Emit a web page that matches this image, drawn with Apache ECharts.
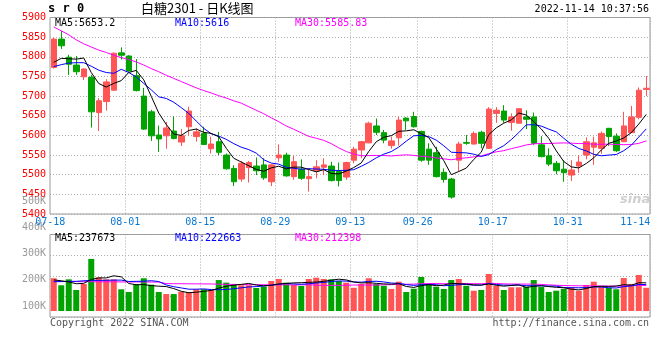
<!DOCTYPE html>
<html><head><meta charset="utf-8">
<script src="https://cdn.jsdelivr.net/npm/echarts@6/dist/echarts.min.js"></script>
<style>html,body{margin:0;padding:0;background:#fff}#c{width:660px;height:360px}</style>
</head><body><div id="c"></div>
<script>
const dates = ['07-18','07-19','07-20','07-21','07-22','07-25','07-26','07-27','07-28','07-29',
'08-01','08-02','08-03','08-04','08-05','08-08','08-09','08-10','08-11','08-12',
'08-15','08-16','08-17','08-18','08-19','08-22','08-23','08-24','08-25','08-26',
'08-29','08-30','08-31','09-01','09-02','09-05','09-06','09-07','09-08','09-09',
'09-13','09-14','09-15','09-16','09-19','09-20','09-21','09-22','09-23','09-26',
'09-27','09-28','09-29','09-30','10-10','10-11','10-12','10-13','10-14','10-17',
'10-18','10-19','10-20','10-21','10-24','10-25','10-26','10-27','10-28','10-31',
'11-01','11-02','11-03','11-04','11-07','11-08','11-09','11-10','11-11','11-14'];
const dateLabelIdx = [0,10,20,30,40,49,59,69,79];

const opens = [5773,5845,5799,5779,5749,5748,5658,5686,5715,5810,
5802,5752,5700,5660,5601,5599,5611,5583,5622,5597,
5605,5566,5584,5550,5516,5489,5518,5522,5525,5482,
5543,5550,5495,5514,5490,5510,5519,5522,5508,5494,
5537,5563,5581,5624,5607,5574,5594,5644,5648,5610,
5565,5556,5506,5489,5537,5582,5578,5608,5567,5656,
5662,5633,5631,5647,5647,5576,5548,5529,5514,5499,
5522,5550,5570,5567,5618,5598,5584,5607,5646,5717];
const closes = [5845,5828,5781,5762,5769,5660,5688,5736,5809,5804,
5764,5714,5616,5599,5591,5619,5592,5599,5662,5609,
5577,5578,5557,5515,5482,5529,5531,5510,5492,5525,
5550,5497,5533,5491,5495,5520,5525,5485,5485,5531,
5565,5584,5631,5608,5588,5586,5639,5637,5622,5537,
5537,5495,5488,5443,5578,5580,5605,5580,5667,5664,
5639,5647,5668,5641,5580,5546,5527,5510,5505,5512,
5532,5584,5581,5605,5597,5561,5624,5647,5715,5720];
const lows = [5770,5820,5754,5754,5741,5620,5611,5663,5714,5793,
5762,5712,5614,5586,5558,5566,5590,5573,5599,5584,
5576,5554,5550,5513,5471,5482,5480,5499,5487,5471,
5533,5495,5487,5487,5457,5491,5499,5483,5470,5487,
5529,5542,5580,5601,5580,5566,5574,5614,5620,5533,
5525,5493,5480,5439,5508,5576,5577,5567,5566,5632,
5632,5612,5630,5616,5576,5544,5522,5501,5482,5484,
5505,5539,5525,5553,5573,5558,5583,5606,5641,5700];
const highs = [5848,5866,5805,5802,5771,5754,5695,5743,5811,5824,
5804,5794,5721,5665,5625,5634,5648,5616,5673,5618,
5622,5597,5609,5554,5524,5535,5535,5544,5542,5526,
5577,5556,5548,5539,5516,5537,5542,5533,5531,5533,
5571,5586,5635,5643,5614,5597,5648,5646,5660,5612,
5580,5571,5516,5492,5584,5601,5610,5612,5672,5672,
5677,5656,5669,5664,5658,5598,5567,5535,5537,5537,
5550,5595,5597,5610,5619,5605,5660,5675,5722,5751];

const ma5 = [5786,5796,5795,5794,5797,5760,5732,5723,5732.4,5739.4,
5760.2,5765.4,5741.4,5699.4,5656.8,5627.8,5603.4,5600,5612.6,5616.2,
5607.8,5605,5596.6,5567.2,5541.8,5532.2,5522.8,5513.4,5508.8,5517.4,
5521.6,5514.8,5519.4,5519.2,5513.2,5507.2,5512.8,5503.2,5502,5509.2,
5518.2,5530,5559.2,5583.8,5595.2,5599.4,5610.4,5611.6,5614.4,5604.2,
5594.4,5565.6,5535.8,5500,5508.2,5516.8,5538.8,5557.2,5602,5619.2,
5631,5639.4,5657,5651.8,5635,5616.4,5592.4,5560.8,5533.6,5520,
5517.2,5528.6,5542.8,5562.8,5579.8,5585.6,5593.6,5606.8,5628.8,5653.4];
const ma10 = [5775,5780,5784,5785,5785,5776,5766,5760,5758,5768.2,
5760.1,5748.7,5732.2,5715.9,5698.1,5694,5684.4,5670.7,5656,5636.5,
5617.8,5604.2,5598.3,5589.9,5579,5570,5563.9,5555,5538,5529.6,
5526.9,5518.8,5516.4,5514,5515.3,5514.4,5513.8,5511.3,5510.6,5511.2,
5512.7,5521.4,5531.2,5542.9,5552.2,5558.8,5570.2,5585.4,5599.1,5599.7,
5596.9,5588,5573.7,5557.2,5556.2,5555.6,5552.2,5546.5,5551,5563.7,
5573.9,5589.1,5607.1,5626.9,5627.1,5623.7,5615.9,5608.9,5592.7,5577.5,
5566.8,5560.5,5551.8,5548.2,5549.9,5551.4,5561.1,5574.8,5595.8,5616.6];
const ma30 = [5876,5866,5856,5843,5833,5825,5817,5811,5804,5798,
5793,5787,5779,5770,5762,5753,5745,5737,5729,5721,
5714,5708,5701,5695,5688,5682,5673,5664,5655,5644.8,
5634.9,5623.9,5615.6,5606.6,5597.5,5592.8,5587.4,5579,5568.2,5559.1,
5552.5,5548.1,5548.6,5548.9,5548.8,5547.7,5549.3,5550.6,5549.2,5546.8,
5545.5,5542.7,5540.4,5538,5541.2,5542.9,5545.4,5547.7,5553.6,5558.2,
5561.2,5566.2,5570.7,5575.7,5578.5,5579.4,5579.4,5580.3,5580.9,5580.3,
5579.2,5579.2,5577.5,5577.4,5577.7,5576.9,5576.4,5576.7,5579.8,5585.9];

// volumes in thousands
const volumesK = [276,217,267,177,228,439,284,267,267,183,
160,228,276,222,160,143,143,163,160,183,
183,177,261,239,228,217,217,194,205,253,
270,239,219,211,270,281,270,267,253,239,
196,228,276,228,213,186,247,160,188,287,
228,205,186,261,270,213,171,177,312,211,
177,200,200,205,261,202,160,171,186,202,
171,219,247,205,196,183,278,228,304,196];
const volMa5K = [262,255,245,230,233,265.6,279,279,297,288,
232.2,221,222.8,213.8,209.2,205.8,188.8,166.2,153.8,158.4,
166.4,173.2,192.8,208.6,217.6,224.4,232.4,219,212.2,217.2,
227.8,232.2,237.2,238.4,241.8,244,250.2,259.8,268.2,262,
245,236.6,238.4,233.4,228.2,226.2,230,206.8,198.8,213.6,
222,213.6,218.8,233.4,230,227,220.2,218.4,228.6,216.8,
209.6,215.4,220,198.6,208.6,213.6,205.6,199.8,196,184.2,
178,189.8,205,208.8,207.6,210,221.8,218,237.8,237.8];
const volMa10K = [247,248,250,250,255,258,258,259,260,260.5,
248.9,250,250.9,255.4,248.6,219,204.9,194.5,183.8,183.8,
186.1,181,179.5,181.2,188,195.4,202.8,205.9,210.4,217.4,
226.1,232.3,228.1,225.3,229.5,235.9,241.2,248.5,253.3,251.9,
244.5,243.4,249.1,250.8,245.1,235.6,233.3,222.6,216.1,220.9,
224.1,221.8,212.8,216.1,221.8,224.5,216.9,218.6,231,223.4,
218.3,217.8,219.2,213.6,212.7,211.6,210.5,209.9,197.3,196.4,
195.8,197.7,202.4,202.4,195.9,194,205.8,211.5,223.3,222.7];
const volMa30K = [249,249,248,248,247,247,246,246,246,245,
245,245,245,244,244,231,230,230,229,229,
228,228,226,225,224,223,222,222,221,220.6,
220.4,221.1,219.5,220.6,222,216.8,216.3,216.3,215.8,217.7,
218.9,218.9,218.9,219.1,220.9,222.3,225.8,225.7,226.6,230.1,
231.6,232.5,230,230.7,232.1,232,230.5,229.9,233.5,232.1,
229,227.7,227,226.8,226.5,223.9,220.2,217,214.8,213.6,
212.7,212.4,211.5,210.7,210.1,210,211.1,213.3,217.2,214.2];

const priceMin = 5400, priceMax = 5900, priceStep = 50;
const volLabelMin = 100, volLabelMax = 500, volLabelStep = 100;

const RED = '#ff5555', GREEN = '#00a300';
const MONO = 'DejaVu Sans Mono';
const gridLine = {color: '#aaaaaa', type: [1, 2], width: 1};
const splitIdx = dateLabelIdx.filter(i => i !== 0 && i !== dates.length - 1);

const candleData = dates.map((d, i) => [opens[i], closes[i], lows[i], highs[i]]);

const chart = echarts.init(document.getElementById('c'), null, {renderer: 'canvas'});

function txt(text, pos, style) {
  return Object.assign({text: text, padding: 0, textStyle: Object.assign({fontFamily: MONO, fontSize: 10, fontWeight: 'normal', color: '#000'}, style)}, pos);
}

const hiddenX = (gi) => ({type: 'category', gridIndex: gi, data: dates, boundaryGap: true, show: false});

chart.setOption({
  animation: false,
  backgroundColor: '#fff',
  title: [
    txt('s r 0', {left: 48, top: 3}, {fontSize: 12, fontWeight: 'bold'}),
    txt('白糖2301 - 日K线图', {left: 141, top: 2}, {fontFamily: 'Noto Sans CJK SC', fontSize: 13}),
    txt('2022-11-14 10:37:56', {right: 11, top: 4}, {}),
    txt('MA5:5653.2', {left: 55, top: 18.5}, {color: '#000'}),
    txt('MA10:5616', {left: 175, top: 18.5}, {color: '#0000ff'}),
    txt('MA30:5585.83', {left: 295, top: 18.5}, {color: '#ff00ff'}),
    txt('MA5:237673', {left: 55, top: 233.5}, {color: '#000'}),
    txt('MA10:222663', {left: 175, top: 233.5}, {color: '#0000ff'}),
    txt('MA30:212398', {left: 295, top: 233.5}, {color: '#ff00ff'}),
    txt('Copyright 2022 SINA.COM', {left: 50, top: 318.5}, {color: '#555'}),
    txt('http://finance.sina.com.cn', {right: 11, top: 318.5}, {color: '#555'}),
    txt('sina', {left: 620, top: 193}, {fontFamily: 'DejaVu Sans', fontSize: 13, fontWeight: 'bold', fontStyle: 'italic', color: '#cfcfcf'})
  ],
  grid: [
    {left: 50, right: 10, top: 17.5, height: 196.5, show: true, borderColor: '#999', borderWidth: 1},
    {left: 50, right: 10, top: 234.5, height: 82.5, show: true, borderColor: '#999', borderWidth: 1},
    {left: 50, right: 10, top: 251.7, height: 59.3, show: false},
    {left: 50, right: 10, top: 201, height: 105, show: false}
  ],
  xAxis: [
    {type: 'category', gridIndex: 0, data: dates, boundaryGap: true,
     axisLine: {show: false}, axisTick: {show: false},
     axisLabel: {
       interval: (i) => dateLabelIdx.indexOf(i) >= 0,
       margin: 3, color: '#0a78d2', fontFamily: MONO, fontSize: 10,
       formatter: (v, i) => (i === dates.length - 1 ? '{e|' + v + '}' : '{n|' + v + '}'),
       rich: {
         n: {padding: [0, 7, 0, 0], color: '#0a78d2', fontFamily: MONO, fontSize: 10},
         e: {padding: [0, 22, 0, 0], color: '#0a78d2', fontFamily: MONO, fontSize: 10}
       }
     },
     splitLine: {show: true, interval: (i) => splitIdx.indexOf(i) >= 0, lineStyle: gridLine}},
    {type: 'category', gridIndex: 1, data: dates, boundaryGap: true,
     axisLine: {show: false}, axisTick: {show: false}, axisLabel: {show: false},
     splitLine: {show: true, interval: (i) => splitIdx.indexOf(i) >= 0, lineStyle: gridLine}},
    hiddenX(2),
    hiddenX(3)
  ],
  yAxis: [
    {type: 'value', gridIndex: 0, min: priceMin, max: priceMax, interval: priceStep,
     axisLine: {show: false}, axisTick: {show: false},
     axisLabel: {color: '#ff0000', fontFamily: MONO, fontSize: 10, margin: 4,
                 padding: [0, 0, 3, 0], formatter: (v) => String(v)},
     splitLine: {show: true, lineStyle: gridLine}},
    {type: 'value', gridIndex: 1, min: 0, max: 4, interval: 1,
     axisLine: {show: false}, axisTick: {show: false}, axisLabel: {show: false},
     splitLine: {show: true, lineStyle: gridLine}},
    {type: 'value', gridIndex: 2, min: 0, max: 500, show: false, splitLine: {show: false}},
    {type: 'value', gridIndex: 3, min: volLabelMin, max: volLabelMax, interval: volLabelStep,
     axisLine: {show: false}, axisTick: {show: false}, splitLine: {show: false},
     axisLabel: {color: '#999999', fontFamily: MONO, fontSize: 10, margin: 4, formatter: (v) => v + 'K'}}
  ],
  series: [
    {type: 'candlestick', xAxisIndex: 0, yAxisIndex: 0, data: candleData, barWidth: 6,
     itemStyle: {color: RED, color0: GREEN, borderColor: RED, borderColor0: GREEN, borderWidth: 1}, z: 2},
    {type: 'line', xAxisIndex: 0, yAxisIndex: 0, data: ma5, showSymbol: false, symbol: 'none',
     lineStyle: {color: '#000', width: 1}, z: 5, silent: true},
    {type: 'line', xAxisIndex: 0, yAxisIndex: 0, data: ma10, showSymbol: false, symbol: 'none',
     lineStyle: {color: '#0000ff', width: 1}, z: 4, silent: true},
    {type: 'line', xAxisIndex: 0, yAxisIndex: 0, data: ma30, showSymbol: false, symbol: 'none',
     lineStyle: {color: '#ff00ff', width: 1}, z: 3, silent: true},
    {type: 'bar', xAxisIndex: 2, yAxisIndex: 2, data: volumesK, barWidth: 6,
     itemStyle: {color: (p) => (closes[p.dataIndex] >= opens[p.dataIndex] ? RED : GREEN)}, z: 2},
    {type: 'line', xAxisIndex: 2, yAxisIndex: 2, data: volMa30K, showSymbol: false, symbol: 'none',
     lineStyle: {color: '#ff00ff', width: 1}, z: 3, silent: true},
    {type: 'line', xAxisIndex: 2, yAxisIndex: 2, data: volMa10K, showSymbol: false, symbol: 'none',
     lineStyle: {color: '#0000ff', width: 1}, z: 4, silent: true},
    {type: 'line', xAxisIndex: 2, yAxisIndex: 2, data: volMa5K, showSymbol: false, symbol: 'none',
     lineStyle: {color: '#000', width: 1}, z: 5, silent: true}
  ]
});
</script>
</body></html>
